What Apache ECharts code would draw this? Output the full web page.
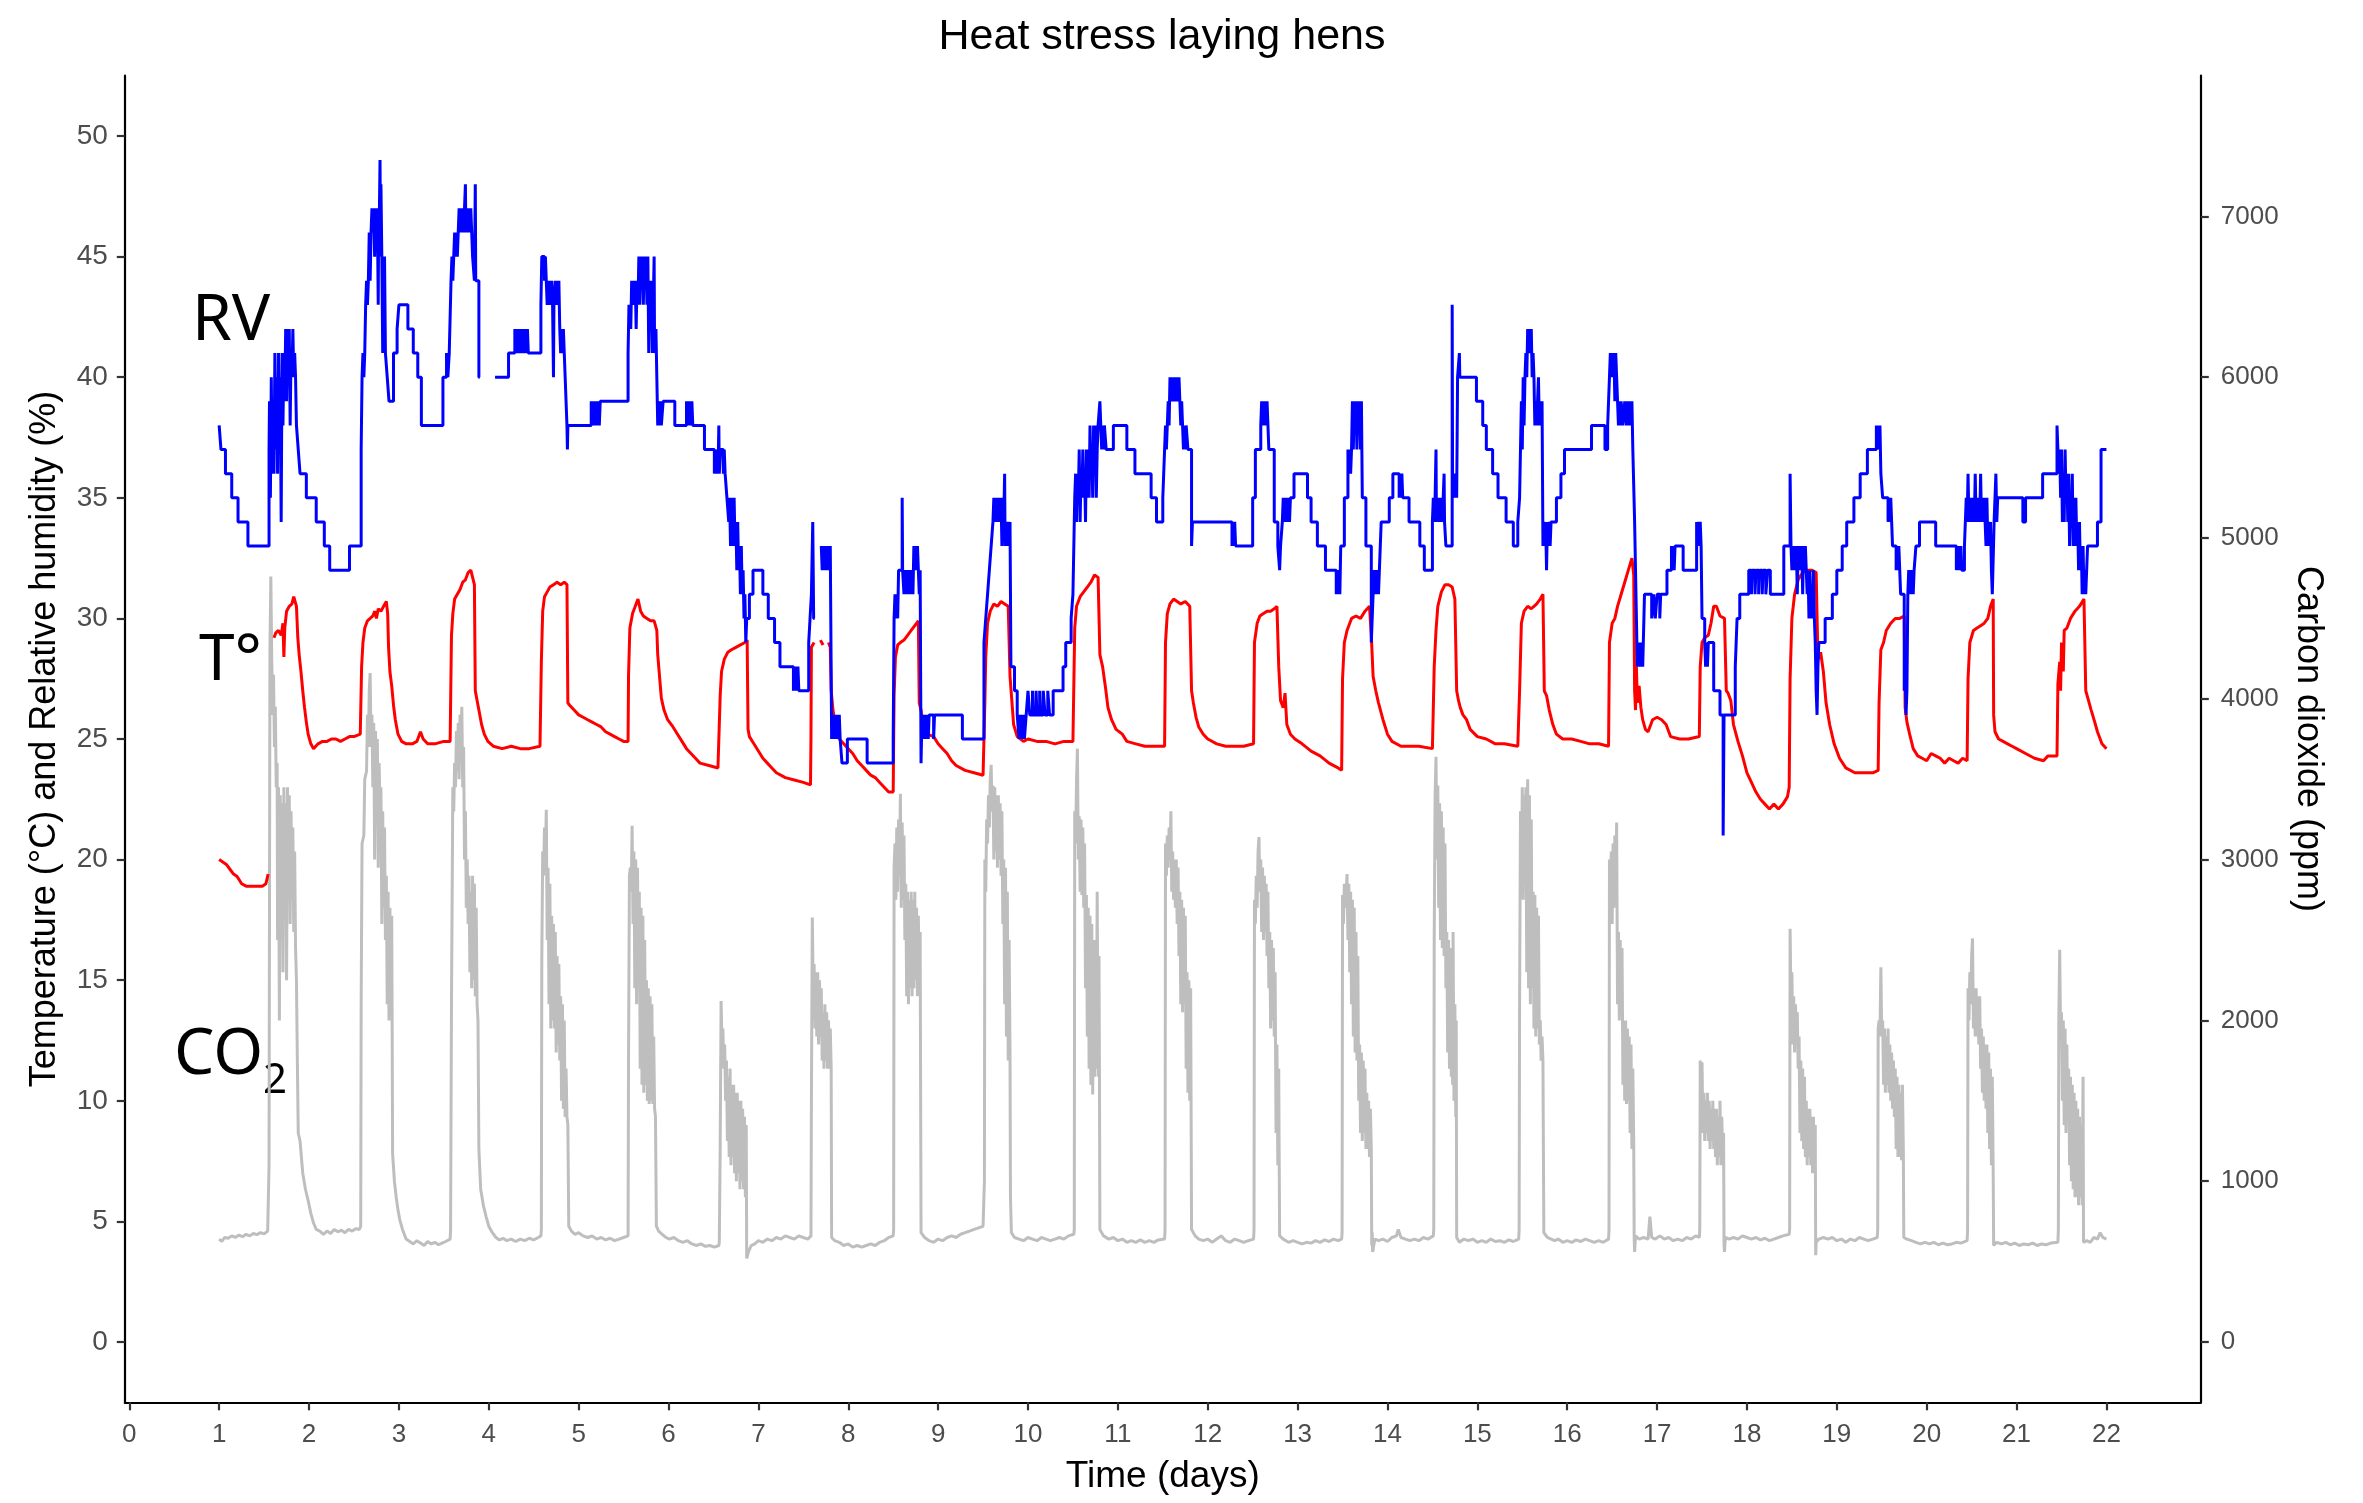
<!DOCTYPE html>
<html>
<head>
<meta charset="utf-8">
<script src="https://cdn.jsdelivr.net/npm/echarts@6/dist/echarts.min.js"></script>
<style>
html,body{margin:0;padding:0;background:#fff;}
#chart{width:2363px;height:1503px;}
</style>
</head>
<body>
<div id="chart"></div>
<script>
// ---- tick labels ----
const dayTicks = [0,1,2,3,4,5,6,7,8,9,10,11,12,13,14,15,16,17,18,19,20,21,22];
const leftTicks = [0,5,10,15,20,25,30,35,40,45,50];
const rightTicks = [0,1000,2000,3000,4000,5000,6000,7000];

// ---- temperature (°C) : [day, value] ----
const tempData = [
[1.00,20.0],[1.04,19.9],[1.08,19.8],[1.12,19.6],[1.16,19.4],[1.20,19.3],[1.25,19.0],[1.30,18.9],[1.40,18.9],[1.48,18.9],[1.52,19.0],[1.545,19.4],[1.55,'-'],
[1.61,29.2],[1.63,29.4],[1.66,29.5],[1.69,29.3],[1.71,29.8],[1.72,28.4],[1.73,29.6],[1.75,30.3],[1.78,30.5],[1.81,30.6],[1.83,30.9],[1.86,30.5],[1.875,29.2],[1.89,28.5],[1.91,27.8],[1.93,27.0],[1.95,26.3],[1.97,25.7],[1.99,25.2],[2.02,24.8],[2.05,24.6],[2.10,24.8],[2.15,24.9],[2.20,24.9],[2.25,25.0],[2.30,25.0],[2.35,24.9],[2.40,25.0],[2.45,25.1],[2.50,25.1],[2.57,25.2],
[2.585,28.0],[2.60,29.0],[2.62,29.6],[2.65,29.9],[2.68,30.0],[2.71,30.1],[2.73,30.3],[2.75,30.0],[2.77,30.4],[2.80,30.3],[2.83,30.5],[2.86,30.7],[2.875,30.2],[2.885,28.8],[2.90,27.8],[2.92,27.2],[2.94,26.4],[2.96,25.8],[2.99,25.2],[3.03,24.9],[3.08,24.8],[3.15,24.8],[3.20,24.9],[3.24,25.3],[3.27,25.0],[3.32,24.8],[3.40,24.8],[3.50,24.9],[3.57,24.9],
[3.585,29.3],[3.60,30.2],[3.62,30.8],[3.65,31.0],[3.68,31.2],[3.71,31.5],[3.74,31.6],[3.77,31.9],[3.80,32.0],[3.82,31.7],[3.84,31.4],[3.85,27.0],[3.87,26.6],[3.89,26.2],[3.92,25.6],[3.95,25.2],[3.99,24.9],[4.05,24.7],[4.15,24.6],[4.25,24.7],[4.35,24.6],[4.45,24.6],[4.57,24.7],
[4.585,28.2],[4.60,30.3],[4.62,30.9],[4.65,31.1],[4.68,31.3],[4.72,31.4],[4.76,31.5],[4.80,31.4],[4.84,31.5],[4.87,31.4],[4.88,26.5],[4.90,26.4],[4.95,26.2],[5.00,26.0],[5.05,25.9],[5.10,25.8],[5.15,25.7],[5.20,25.6],[5.25,25.5],[5.30,25.3],[5.35,25.2],[5.40,25.1],[5.45,25.0],[5.50,24.9],[5.55,24.9],
[5.555,27.6],[5.57,29.6],[5.60,30.2],[5.63,30.5],[5.66,30.8],[5.69,30.3],[5.72,30.1],[5.76,30.0],[5.80,29.9],[5.84,29.9],[5.87,29.5],[5.88,28.5],[5.90,27.6],[5.92,26.7],[5.95,26.2],[5.99,25.8],[6.05,25.5],[6.10,25.2],[6.15,24.9],[6.20,24.6],[6.25,24.4],[6.30,24.2],[6.35,24.0],[6.45,23.9],[6.55,23.8],
[6.575,26.8],[6.59,27.8],[6.62,28.3],[6.66,28.6],[6.70,28.7],[6.75,28.8],[6.80,28.9],[6.85,29.0],[6.875,29.1],[6.885,25.4],[6.90,25.1],[6.95,24.8],[7.00,24.5],[7.05,24.2],[7.10,24.0],[7.15,23.8],[7.20,23.6],[7.30,23.4],[7.40,23.3],[7.50,23.2],[7.58,23.1],
[7.585,25.0],[7.59,28.8],[7.62,29.0],[7.625,'-'],[7.69,29.1],[7.72,28.9],[7.725,'-'],[7.78,29.0],[7.80,28.8],[7.81,27.0],[7.83,26.2],[7.86,25.5],[7.90,25.0],[7.95,24.8],[8.00,24.6],[8.05,24.4],[8.10,24.1],[8.15,23.9],[8.20,23.7],[8.25,23.5],[8.30,23.4],[8.35,23.2],[8.40,23.0],[8.45,22.8],[8.50,22.8],
[8.51,26.8],[8.525,28.4],[8.55,28.9],[8.58,29.0],[8.62,29.1],[8.66,29.3],[8.70,29.5],[8.74,29.7],[8.78,29.9],[8.79,26.5],[8.81,26.2],[8.84,25.4],[8.88,25.2],[8.95,25.1],[9.00,24.8],[9.05,24.6],[9.10,24.4],[9.15,24.1],[9.20,23.9],[9.30,23.7],[9.40,23.6],[9.50,23.5],
[9.52,26.5],[9.53,28.4],[9.55,29.8],[9.58,30.3],[9.62,30.6],[9.66,30.5],[9.70,30.7],[9.74,30.6],[9.78,30.5],[9.80,27.6],[9.82,26.6],[9.84,25.6],[9.88,25.1],[9.95,24.9],[10.00,25.0],[10.10,24.9],[10.20,24.9],[10.30,24.8],[10.40,24.9],[10.50,24.9],
[10.52,29.6],[10.54,30.5],[10.58,30.9],[10.62,31.1],[10.66,31.3],[10.70,31.5],[10.74,31.8],[10.78,31.7],[10.80,28.5],[10.83,28.0],[10.86,27.2],[10.89,26.3],[10.93,25.8],[10.98,25.4],[11.05,25.2],[11.10,24.9],[11.20,24.8],[11.30,24.7],[11.40,24.7],[11.52,24.7],
[11.53,29.0],[11.55,30.2],[11.58,30.6],[11.62,30.8],[11.66,30.7],[11.70,30.6],[11.75,30.7],[11.80,30.5],[11.82,27.0],[11.84,26.5],[11.87,25.9],[11.90,25.5],[11.95,25.2],[12.00,25.0],[12.10,24.8],[12.20,24.7],[12.30,24.7],[12.40,24.7],[12.51,24.8],
[12.52,29.0],[12.55,29.8],[12.58,30.1],[12.62,30.2],[12.66,30.3],[12.70,30.3],[12.74,30.4],[12.77,30.5],[12.79,28.0],[12.81,26.6],[12.84,26.3],[12.86,26.9],[12.88,25.6],[12.92,25.2],[12.97,25.0],[13.05,24.8],[13.15,24.5],[13.25,24.3],[13.35,24.0],[13.45,23.8],[13.49,23.7],
[13.50,27.5],[13.52,29.0],[13.55,29.5],[13.60,30.0],[13.65,30.1],[13.70,30.0],[13.75,30.3],[13.80,30.5],[13.82,29.3],[13.84,27.6],[13.87,27.0],[13.90,26.5],[13.95,25.8],[14.00,25.2],[14.05,24.9],[14.15,24.7],[14.25,24.7],[14.35,24.7],[14.50,24.6],
[14.52,28.0],[14.54,29.5],[14.56,30.5],[14.60,31.1],[14.64,31.4],[14.68,31.4],[14.72,31.3],[14.75,30.8],[14.77,27.0],[14.79,26.6],[14.81,26.3],[14.84,26.0],[14.88,25.8],[14.92,25.4],[15.00,25.1],[15.10,25.0],[15.20,24.8],[15.30,24.8],[15.45,24.7],
[15.47,27.0],[15.49,29.8],[15.52,30.3],[15.56,30.5],[15.60,30.4],[15.63,30.5],[15.66,30.6],[15.70,30.8],[15.73,31.0],[15.745,27.0],[15.77,26.8],[15.80,26.2],[15.84,25.6],[15.88,25.2],[15.95,25.0],[16.05,25.0],[16.15,24.9],[16.25,24.8],[16.35,24.8],[16.46,24.7],
[16.47,29.0],[16.50,29.8],[16.53,30.0],[16.56,30.5],[16.60,31.0],[16.64,31.5],[16.68,32.0],[16.72,32.5],[16.74,31.8],[16.75,27.0],[16.76,26.2],[16.77,28.0],[16.78,26.5],[16.80,27.2],[16.82,26.3],[16.84,25.8],[16.87,25.4],[16.90,25.3],[16.95,25.8],[17.00,25.9],[17.05,25.8],[17.10,25.6],[17.15,25.1],[17.25,25.0],[17.35,25.0],[17.47,25.1],
[17.48,28.0],[17.50,29.0],[17.53,29.2],[17.57,29.3],[17.60,29.8],[17.63,30.5],[17.66,30.5],[17.70,30.1],[17.75,30.0],[17.77,27.0],[17.79,26.9],[17.82,26.6],[17.85,25.6],[17.90,24.9],[17.95,24.3],[18.00,23.6],[18.05,23.2],[18.10,22.8],[18.15,22.5],[18.20,22.3],[18.25,22.1],[18.30,22.3],[18.35,22.1],[18.40,22.3],[18.45,22.6],[18.47,23.0],
[18.48,27.5],[18.50,30.0],[18.53,31.0],[18.57,31.6],[18.62,31.9],[18.67,32.0],[18.72,32.0],[18.77,31.9],[18.79,28.3],[18.82,28.6],[18.85,27.8],[18.88,26.5],[18.92,25.6],[18.97,24.8],[19.03,24.2],[19.10,23.8],[19.20,23.6],[19.30,23.6],[19.40,23.6],[19.46,23.7],
[19.47,26.5],[19.49,28.7],[19.52,29.0],[19.55,29.5],[19.60,29.8],[19.65,30.0],[19.70,30.0],[19.75,30.1],[19.76,26.3],[19.78,25.7],[19.81,25.2],[19.85,24.6],[19.90,24.3],[19.95,24.2],[20.00,24.1],[20.05,24.4],[20.10,24.3],[20.15,24.2],[20.20,24.0],[20.25,24.2],[20.30,24.1],[20.35,24.0],[20.40,24.2],[20.45,24.1],
[20.46,27.5],[20.48,29.0],[20.52,29.5],[20.56,29.6],[20.60,29.7],[20.64,29.8],[20.68,30.0],[20.71,30.5],[20.74,30.8],[20.745,26.0],[20.76,25.3],[20.80,25.0],[20.85,24.9],[20.90,24.8],[20.95,24.7],[21.00,24.6],[21.10,24.4],[21.20,24.2],[21.30,24.1],[21.35,24.3],[21.45,24.3],
[21.46,27.3],[21.48,28.2],[21.49,27.0],[21.50,29.0],[21.52,27.8],[21.53,29.5],[21.56,29.6],[21.60,30.0],[21.65,30.3],[21.70,30.5],[21.75,30.8],[21.77,27.0],[21.80,26.6],[21.83,26.2],[21.87,25.7],[21.90,25.3],[21.95,24.8],[22.00,24.6]
];

// ---- relative humidity (%) : [day, value] ----
const rhData = [
[1.00,38],[1.02,37],[1.07,36],[1.14,35],[1.21,34],[1.32,33],[1.555,37],
[1.56,39],[1.57,35],[1.58,40],[1.59,36],[1.60,39],[1.61,36],[1.62,41],[1.63,37],[1.64,40],[1.65,36],[1.66,41],[1.67,38],[1.68,40],[1.69,34],[1.70,41],[1.71,38],[1.72,41],[1.73,39],[1.74,42],[1.75,39],[1.76,42],[1.77,40],[1.78,42],[1.79,38],[1.80,41],[1.81,40],[1.82,42],[1.83,40],[1.84,41],[1.85,40],[1.86,38],[1.88,37],[1.90,36],[1.97,35],[2.08,34],[2.17,33],[2.23,32],[2.45,33],
[2.58,37],[2.59,40],[2.60,41],[2.61,40],[2.62,41],[2.63,43],[2.64,44],[2.65,43],[2.66,44],[2.67,46],[2.68,44],[2.69,46],[2.70,47],[2.71,46],[2.72,47],[2.73,45],[2.74,47],[2.75,46],[2.76,47],[2.77,43],[2.775,47],[2.78,46],[2.79,49],[2.795,45],[2.80,48],[2.81,45],[2.82,41],[2.84,45],[2.85,41],[2.87,40],[2.89,39],[2.94,41],[2.98,42],[3.00,43],[3.10,42],[3.16,41],[3.21,40],[3.25,38],[3.49,40],[3.53,41],[3.545,40],[3.56,41],
[3.58,44],[3.59,45],[3.60,44],[3.62,46],[3.63,45],[3.64,46],[3.65,45],[3.66,46],[3.67,47],[3.68,46],[3.69,47],[3.70,46],[3.71,47],[3.72,46],[3.73,47],[3.74,48],[3.745,46],[3.75,47],[3.76,46],[3.78,47],[3.79,46],[3.80,47],[3.81,46],[3.82,45],[3.84,44],[3.85,48],[3.855,44],[3.87,44],[3.89,40],[3.90,40],[3.905,'-'],
[4.07,40],[4.22,41],[4.29,42],[4.30,41],[4.31,42],[4.32,41],[4.33,42],[4.34,41],[4.35,42],[4.36,41],[4.37,42],[4.38,41],[4.39,42],[4.40,41],[4.41,42],[4.42,41],[4.43,42],[4.44,41],
[4.58,43],[4.59,45],[4.62,44],[4.63,45],[4.64,44],[4.65,43],[4.66,44],[4.67,43],[4.68,44],[4.69,43],[4.70,44],[4.71,43],[4.72,40],[4.725,43],[4.74,44],[4.75,43],[4.76,44],[4.77,43],[4.78,44],[4.79,42],[4.80,41],[4.81,42],[4.82,41],[4.83,42],[4.84,41],[4.85,40],[4.86,39],[4.87,38],[4.875,37],[4.88,38],
[5.14,39],[5.15,38],[5.16,39],[5.17,38],[5.18,39],[5.19,38],[5.20,39],[5.21,38],[5.22,39],[5.23,38],[5.24,39],
[5.55,41],[5.56,43],[5.58,42],[5.59,44],[5.60,43],[5.61,44],[5.62,43],[5.63,44],[5.64,42],[5.65,44],[5.66,43],[5.67,45],[5.68,43],[5.69,45],[5.70,44],[5.71,45],[5.72,43],[5.73,45],[5.74,44],[5.75,45],[5.76,43],[5.77,45],[5.78,41],[5.79,44],[5.80,43],[5.81,44],[5.82,41],[5.84,45],[5.845,41],[5.86,42],[5.87,40],[5.88,38],[5.89,39],[5.90,38],[5.91,39],[5.92,38],[5.94,39],[6.07,38],
[6.20,39],[6.21,38],[6.22,39],[6.23,38],[6.24,39],[6.25,38],[6.26,39],[6.27,38],[6.40,37],[6.51,36],[6.52,37],[6.53,36],[6.54,37],[6.55,36],[6.56,38],[6.565,36],[6.58,37],[6.61,36],[6.62,37],[6.63,36],[6.65,35],[6.67,34],[6.68,35],[6.69,33],[6.70,35],[6.71,34],[6.72,33],[6.73,35],[6.74,33],[6.75,34],[6.76,32],[6.77,34],[6.78,32],[6.79,33],[6.80,31],[6.81,33],[6.82,31],[6.83,32],[6.84,30],[6.85,31],[6.86,29],[6.87,30],
[6.88,30],[6.90,31],[6.94,32],[7.05,31],[7.11,30],[7.18,29],[7.24,28],[7.39,27],[7.40,28],[7.41,27],[7.42,28],[7.43,27],[7.44,28],[7.45,27],[7.56,29],[7.575,30],[7.59,31],[7.605,34],[7.615,30],[7.62,30],[7.625,'-'],
[7.70,33],[7.71,32],[7.72,33],[7.73,32],[7.74,33],[7.75,32],[7.76,33],[7.77,32],[7.78,33],[7.79,32],[7.80,33],[7.815,25],[7.82,26],[7.83,25],[7.84,26],[7.85,25],[7.86,26],[7.87,25],[7.88,26],[7.89,25],[7.90,26],[7.91,25],[7.93,24],[7.99,25],[8.21,24],
[8.50,25],[8.51,30],[8.52,31],[8.53,30],[8.54,31],[8.55,30],[8.56,32],[8.60,35],[8.605,32],[8.62,31],[8.63,32],[8.64,31],[8.65,32],[8.66,31],[8.67,32],[8.68,31],[8.69,32],[8.70,31],[8.71,32],[8.72,31],[8.73,33],[8.74,32],[8.75,33],[8.76,32],[8.77,33],[8.78,32],[8.79,31],[8.80,32],[8.81,24],[8.82,26],[8.83,25],[8.84,26],[8.85,25],[8.86,26],[8.87,25],[8.88,26],[8.89,25],[8.90,26],[8.95,25],[8.96,26],[9.27,25],
[9.51,29],[9.53,30],[9.55,31],[9.57,32],[9.59,33],[9.61,34],[9.62,35],[9.63,34],[9.64,35],[9.65,34],[9.66,35],[9.67,34],[9.68,35],[9.69,34],[9.70,35],[9.71,33],[9.72,35],[9.73,34],[9.74,36],[9.745,33],[9.76,34],[9.77,33],[9.78,34],[9.79,33],[9.80,34],[9.81,28],[9.85,27],[9.88,26],[9.90,25],[9.91,26],[9.92,25],[9.93,26],[9.94,25],[9.95,26],[9.96,25],[9.98,26],[10.00,27],[10.02,26],[10.05,27],[10.06,26],[10.09,27],[10.10,26],[10.13,27],[10.14,26],[10.17,27],[10.19,26],[10.22,27],[10.24,26],[10.28,27],[10.39,28],[10.42,29],[10.48,30],[10.50,31],
[10.52,35],[10.53,36],[10.54,34],[10.55,36],[10.56,35],[10.57,37],[10.58,34],[10.59,36],[10.60,35],[10.61,37],[10.62,35],[10.63,36],[10.64,34],[10.65,37],[10.66,35],[10.67,37],[10.68,35],[10.69,38],[10.70,36],[10.71,37],[10.72,35],[10.73,38],[10.74,36],[10.75,38],[10.76,35],[10.77,37],[10.78,38],[10.80,39],[10.81,38],[10.82,37],[10.83,38],[10.84,37],[10.85,38],[10.87,37],[10.95,38],[11.10,37],[11.19,36],[11.37,35],[11.43,34],[11.50,35],[11.52,37],[11.53,38],[11.54,37],[11.55,38],[11.56,39],[11.57,38],[11.58,40],[11.59,39],[11.60,40],[11.61,39],[11.62,40],[11.63,39],[11.64,40],[11.65,39],[11.66,40],[11.67,39],[11.68,40],[11.69,39],[11.70,38],[11.71,39],[11.72,38],[11.73,37],[11.74,38],[11.75,37],[11.76,38],[11.78,37],[11.82,33],[11.83,34],
[12.27,33],[12.28,34],[12.29,33],[12.30,34],[12.31,33],[12.50,35],[12.53,37],[12.59,38],[12.60,39],[12.61,38],[12.62,39],[12.63,38],[12.64,39],[12.65,38],[12.66,39],[12.67,38],[12.68,37],[12.74,34],[12.78,33],[12.80,32],[12.81,33],[12.83,34],[12.84,35],[12.85,34],[12.86,35],[12.87,34],[12.88,35],[12.89,34],[12.90,35],[12.91,34],[12.92,35],[12.96,36],[13.11,35],[13.15,34],[13.22,33],[13.31,32],[13.43,31],[13.44,32],[13.45,31],[13.46,32],[13.47,31],[13.48,33],[13.52,35],[13.56,37],[13.57,36],[13.58,37],[13.59,36],[13.60,37],[13.61,39],[13.62,37],[13.63,39],[13.64,38],[13.65,39],[13.66,37],[13.67,39],[13.68,38],[13.69,39],[13.70,37],[13.71,39],[13.72,35],[13.76,33],[13.82,29],[13.84,31],[13.85,32],[13.86,31],[13.87,32],[13.88,31],[13.89,32],[13.90,31],[13.91,32],[13.93,34],
[14.02,35],[14.06,36],[14.13,35],[14.14,36],[14.15,35],[14.16,36],[14.17,35],[14.24,34],[14.36,33],[14.41,32],[14.50,34],[14.51,35],[14.52,34],[14.53,35],[14.54,37],[14.545,34],[14.56,35],[14.57,34],[14.58,35],[14.59,34],[14.60,35],[14.61,34],[14.63,36],[14.635,34],[14.65,33],[14.72,43],[14.725,35],[14.74,36],[14.75,35],[14.76,36],[14.77,35],[14.78,40],[14.80,41],[14.805,40],[14.99,39],[15.06,38],[15.10,37],[15.17,36],[15.23,35],[15.32,34],[15.40,33],[15.45,34],[15.47,35],[15.48,37],
[15.49,39],[15.50,37],[15.51,40],[15.52,38],[15.53,40],[15.54,41],[15.55,40],[15.56,42],[15.57,41],[15.58,42],[15.59,41],[15.60,42],[15.61,40],[15.62,41],[15.63,40],[15.64,38],[15.65,39],[15.66,38],[15.67,39],[15.68,40],[15.69,38],[15.70,39],[15.71,38],[15.72,39],[15.73,33],[15.74,34],[15.75,33],[15.76,34],[15.77,32],[15.78,34],[15.79,33],[15.80,34],[15.81,33],[15.82,34],[15.88,35],[15.93,36],[15.97,37],[16.27,38],[16.42,37],[16.45,38],
[16.47,40],[16.48,41],[16.49,40],[16.50,41],[16.51,40],[16.52,41],[16.53,39],[16.54,41],[16.55,40],[16.57,38],[16.58,39],[16.59,38],[16.60,39],[16.62,38],[16.64,39],[16.66,38],[16.67,39],[16.68,38],[16.69,39],[16.70,38],[16.72,39],[16.73,37],[16.75,34],[16.77,30],[16.78,28],[16.79,29],[16.80,28],[16.81,29],[16.82,28],[16.83,29],[16.84,28],[16.86,31],[16.94,30],[16.96,31],[16.98,30],[17.00,31],[17.03,30],[17.04,31],[17.11,32],[17.16,33],[17.17,32],[17.18,33],[17.19,32],[17.20,33],[17.29,32],[17.44,34],[17.45,33],[17.46,34],[17.47,33],[17.48,34],[17.49,33],[17.50,30],[17.53,29],[17.54,28],[17.55,29],[17.56,28],[17.57,29],[17.63,27],[17.70,26],[17.735,21],[17.745,26],[17.87,28],[17.89,30],[17.92,31],
[18.02,32],[18.05,31],[18.06,32],[18.09,31],[18.10,32],[18.13,31],[18.14,32],[18.17,31],[18.18,32],[18.21,31],[18.23,32],[18.26,31],[18.41,33],[18.48,36],[18.49,33],[18.50,32],[18.51,33],[18.52,32],[18.53,33],[18.54,32],[18.55,33],[18.56,31],[18.57,33],[18.58,32],[18.59,33],[18.60,32],[18.61,33],[18.62,31],[18.63,33],[18.64,32],[18.65,33],[18.67,31],[18.68,32],[18.69,30],[18.70,32],[18.71,30],[18.72,31],[18.73,30],[18.74,32],[18.75,30],[18.76,29],[18.77,27],[18.78,26],[18.79,28],[18.80,29],[18.87,30],[18.95,31],[19.00,32],[19.06,33],[19.11,34],[19.19,35],[19.26,36],[19.34,37],
[19.44,38],[19.45,37],[19.46,38],[19.47,37],[19.48,38],[19.49,36],[19.51,35],[19.57,34],[19.58,35],[19.59,34],[19.60,35],[19.61,34],[19.62,33],[19.66,32],[19.67,33],[19.68,32],[19.69,33],[19.70,32],[19.71,31],[19.75,27],[19.76,28],[19.77,26],[19.78,27],[19.79,31],[19.80,32],[19.81,31],[19.82,32],[19.83,31],[19.84,32],[19.85,31],[19.86,32],[19.88,33],[19.92,34],[20.10,33],[20.33,32],[20.34,33],[20.35,32],[20.36,33],[20.37,32],[20.38,33],[20.39,32],[20.42,33],
[20.44,35],[20.45,34],[20.46,36],[20.47,34],[20.48,35],[20.49,34],[20.50,35],[20.51,34],[20.52,35],[20.53,34],[20.54,36],[20.55,34],[20.56,35],[20.57,34],[20.58,35],[20.59,34],[20.60,36],[20.61,34],[20.62,35],[20.63,34],[20.64,35],[20.65,34],[20.66,33],[20.67,35],[20.68,33],[20.69,34],[20.70,33],[20.71,34],[20.72,32],[20.73,31],[20.75,34],[20.77,36],[20.78,34],[20.79,35],[21.07,34],[21.10,35],[21.29,36],[21.45,38],
[21.47,36],[21.48,37],[21.49,35],[21.50,37],[21.51,34],[21.52,36],[21.53,34],[21.54,37],[21.55,35],[21.56,36],[21.57,34],[21.58,36],[21.59,33],[21.60,35],[21.61,34],[21.62,36],[21.63,33],[21.64,35],[21.65,33],[21.66,35],[21.67,33],[21.68,34],[21.69,32],[21.70,34],[21.71,32],[21.72,33],[21.73,31],[21.74,33],[21.75,31],[21.76,32],[21.77,31],[21.79,33],[21.90,34],[21.94,37],[22.00,37]
];

// ---- carbon dioxide (ppm) : [day, value] ----
const co2Data = [
[1.00,640],[1.03,625],[1.06,650],[1.10,645],[1.14,660],[1.18,650],[1.22,665],[1.26,655],[1.30,670],[1.34,660],[1.38,675],[1.42,668],[1.46,680],[1.50,672],[1.54,690],
[1.555,1100],[1.565,4300],[1.575,4760],[1.585,4250],[1.595,3900],[1.605,4150],[1.615,3700],[1.625,3950],[1.635,3450],[1.645,3600],[1.65,2500],[1.66,3450],[1.67,2000],[1.68,3400],[1.69,2500],[1.70,3350],[1.71,2300],[1.72,3450],[1.73,2700],[1.74,3350],[1.75,2250],[1.76,3450],[1.77,2750],[1.78,3400],[1.79,2600],[1.80,3300],[1.81,2750],[1.82,3200],[1.83,2550],[1.84,3050],[1.85,2450],[1.86,2250],[1.87,1750],[1.88,1300],[1.90,1250],[1.93,1050],[1.96,950],[1.99,880],[2.02,800],[2.05,740],[2.08,700],
[2.12,690],[2.16,670],[2.20,690],[2.24,675],[2.28,700],[2.32,685],[2.36,695],[2.40,680],[2.44,700],[2.48,690],[2.52,705],[2.56,700],
[2.575,720],[2.58,2100],[2.59,3100],[2.61,3150],[2.62,3500],[2.64,3550],[2.65,3900],[2.66,3700],[2.67,4050],[2.68,4160],[2.69,3700],[2.70,3900],[2.71,3450],[2.72,3850],[2.73,3000],[2.74,3800],[2.75,3450],[2.76,3750],[2.77,2950],[2.78,3600],[2.79,3300],[2.80,3450],[2.81,2600],[2.82,3300],[2.83,2700],[2.84,3200],[2.85,2500],[2.86,2900],[2.87,2100],[2.88,2800],[2.89,2000],[2.90,2700],[2.91,2100],[2.92,2650],[2.925,1950],[2.93,1170],[2.95,1000],[2.97,900],[2.99,820],[3.01,760],[3.04,700],[3.08,640],
[3.12,625],[3.16,610],[3.20,630],[3.24,615],[3.28,600],[3.32,625],[3.36,610],[3.40,620],[3.44,605],[3.48,615],[3.52,625],[3.57,640],
[3.575,700],[3.585,2100],[3.60,3450],[3.61,3300],[3.62,3600],[3.63,3450],[3.64,3800],[3.65,3550],[3.66,3850],[3.67,3500],[3.68,3900],[3.69,3600],[3.70,3950],[3.71,3450],[3.72,3700],[3.73,3000],[3.74,3300],[3.75,2700],[3.76,3000],[3.77,2600],[3.78,2900],[3.79,2300],[3.80,2800],[3.81,2200],[3.82,2900],[3.83,2250],[3.84,2850],[3.85,2150],[3.86,2700],[3.87,2100],[3.88,2000],[3.89,1200],[3.91,950],[3.94,850],[3.97,780],[4.00,720],[4.04,680],
[4.08,650],[4.12,635],[4.16,645],[4.20,630],[4.25,640],[4.30,625],[4.35,640],[4.40,630],[4.45,645],[4.50,635],[4.55,650],[4.58,660],
[4.585,700],[4.59,2370],[4.60,3050],[4.61,2900],[4.62,3200],[4.63,3000],[4.64,3310],[4.65,2500],[4.66,2950],[4.67,2100],[4.68,2850],[4.69,1950],[4.70,2650],[4.71,2000],[4.72,2600],[4.73,1950],[4.74,2550],[4.75,1800],[4.76,2400],[4.77,1850],[4.78,2350],[4.79,1750],[4.80,2150],[4.81,1500],[4.82,2100],[4.83,1450],[4.84,2000],[4.85,1400],[4.86,1700],[4.87,1400],[4.88,1350],[4.89,720],[4.92,690],
[4.96,670],[5.00,680],[5.05,660],[5.10,650],[5.15,660],[5.20,640],[5.25,650],[5.30,635],[5.35,645],[5.40,630],[5.45,640],[5.50,650],[5.55,660],
[5.555,1750],[5.565,2900],[5.575,2950],[5.585,2800],[5.595,3210],[5.605,2600],[5.615,3050],[5.625,2200],[5.635,3000],[5.645,2100],[5.655,2950],[5.665,2300],[5.675,2800],[5.685,1700],[5.695,2700],[5.705,1600],[5.715,2650],[5.725,1550],[5.735,2500],[5.745,1600],[5.755,2250],[5.765,1500],[5.775,2200],[5.785,1480],[5.795,2150],[5.805,1500],[5.815,2100],[5.825,1480],[5.835,1900],[5.845,1450],[5.855,1400],[5.865,720],[5.89,690],[5.93,670],
[5.97,650],[6.01,640],[6.06,650],[6.11,630],[6.16,620],[6.21,630],[6.26,610],[6.31,600],[6.36,610],[6.41,595],[6.46,600],[6.51,590],[6.56,600],
[6.565,620],[6.575,1200],[6.585,2120],[6.595,1850],[6.605,1950],[6.615,1700],[6.625,1850],[6.635,1500],[6.645,1750],[6.655,1250],[6.665,1650],[6.675,1150],[6.685,1700],[6.695,1100],[6.705,1600],[6.715,1150],[6.725,1600],[6.735,1050],[6.745,1550],[6.755,1000],[6.765,1550],[6.775,1050],[6.785,1500],[6.795,950],[6.805,1500],[6.815,1000],[6.825,1450],[6.835,950],[6.845,1400],[6.855,900],[6.865,1350],[6.87,520],[6.89,560],[6.92,600],
[6.96,610],[7.00,630],[7.05,620],[7.10,640],[7.15,630],[7.20,650],[7.25,640],[7.30,660],[7.35,650],[7.40,640],[7.45,660],[7.50,650],[7.55,640],[7.585,660],
[7.59,1500],[7.60,2640],[7.61,2200],[7.62,2350],[7.63,1950],[7.64,2300],[7.65,1900],[7.66,2300],[7.67,1850],[7.68,2250],[7.69,1900],[7.70,2200],[7.71,1750],[7.72,2050],[7.73,1700],[7.74,2100],[7.75,1750],[7.76,2050],[7.77,1700],[7.78,2000],[7.79,1700],[7.80,1950],[7.81,1700],[7.815,650],[7.85,630],
[7.90,620],[7.95,600],[8.00,610],[8.05,590],[8.10,600],[8.15,590],[8.20,600],[8.25,610],[8.30,600],[8.35,620],[8.40,630],[8.45,650],[8.50,660],
[8.505,700],[8.51,2950],[8.52,3100],[8.53,2750],[8.54,3200],[8.55,2800],[8.56,3250],[8.57,2900],[8.58,3410],[8.59,2700],[8.60,3230],[8.61,2750],[8.62,3150],[8.63,2500],[8.64,2850],[8.65,2150],[8.66,2800],[8.67,2100],[8.68,2750],[8.69,2200],[8.70,2800],[8.71,2150],[8.72,2750],[8.73,2200],[8.74,2800],[8.75,2250],[8.76,2700],[8.77,2150],[8.78,2650],[8.79,2200],[8.80,2550],[8.81,680],[8.85,650],
[8.90,630],[8.95,620],[9.00,640],[9.05,630],[9.10,650],[9.15,660],[9.20,650],[9.25,670],[9.30,680],[9.35,690],[9.40,700],[9.45,710],[9.50,720],
[9.515,1000],[9.52,3000],[9.53,2800],[9.54,3250],[9.55,3100],[9.56,3400],[9.57,3200],[9.58,3500],[9.59,3590],[9.60,3300],[9.61,3460],[9.62,3000],[9.63,3450],[9.64,3050],[9.65,3400],[9.66,2950],[9.67,3400],[9.68,3000],[9.69,3350],[9.70,2900],[9.71,3300],[9.72,2600],[9.73,3000],[9.74,2100],[9.75,2950],[9.76,1900],[9.77,2800],[9.78,1750],[9.79,2500],[9.80,1800],[9.805,900],[9.815,680],[9.85,650],
[9.90,640],[9.95,630],[10.00,650],[10.05,640],[10.10,630],[10.15,650],[10.20,640],[10.25,630],[10.30,640],[10.35,650],[10.40,640],[10.45,660],[10.51,670],
[10.515,700],[10.52,3300],[10.53,3100],[10.54,3500],[10.55,3690],[10.56,3000],[10.57,3270],[10.58,2800],[10.59,3250],[10.60,2780],[10.61,3200],[10.62,2700],[10.63,3100],[10.64,2200],[10.65,2780],[10.66,1900],[10.67,2700],[10.68,1700],[10.69,2650],[10.70,1600],[10.71,2600],[10.72,1540],[10.73,2500],[10.74,1650],[10.75,2500],[10.76,1700],[10.77,2800],[10.78,1650],[10.79,2400],[10.795,1700],[10.80,700],[10.84,660],
[10.90,640],[10.95,650],[11.00,630],[11.05,640],[11.10,620],[11.15,630],[11.20,620],[11.25,635],[11.30,620],[11.35,630],[11.40,620],[11.45,635],[11.52,640],
[11.525,700],[11.53,3100],[11.54,2900],[11.55,3150],[11.56,2950],[11.57,3200],[11.58,3000],[11.59,3300],[11.60,2800],[11.61,3050],[11.62,2750],[11.63,3000],[11.64,2700],[11.65,3000],[11.66,2600],[11.67,2950],[11.68,2400],[11.69,2800],[11.70,2100],[11.71,2750],[11.72,2050],[11.73,2700],[11.74,2100],[11.75,2650],[11.76,1700],[11.77,2300],[11.78,1550],[11.79,2250],[11.80,1500],[11.81,2200],[11.815,1450],[11.82,700],[11.86,660],
[11.90,640],[11.95,630],[12.00,640],[12.05,620],[12.10,640],[12.15,660],[12.20,630],[12.25,620],[12.30,640],[12.35,630],[12.40,620],[12.45,630],[12.51,640],
[12.515,700],[12.52,2750],[12.53,2600],[12.54,2900],[12.55,2700],[12.56,3050],[12.57,3140],[12.58,2800],[12.59,3000],[12.60,2550],[12.61,2950],[12.62,2500],[12.63,2900],[12.64,2550],[12.65,2850],[12.66,2400],[12.67,2800],[12.68,2200],[12.69,2550],[12.70,1950],[12.71,2500],[12.72,2000],[12.73,2450],[12.74,1900],[12.75,2300],[12.76,1300],[12.77,1850],[12.78,1100],[12.79,1700],[12.795,1150],[12.80,660],[12.84,640],
[12.90,620],[12.95,630],[13.00,620],[13.05,610],[13.10,620],[13.15,615],[13.20,630],[13.25,620],[13.30,635],[13.35,625],[13.40,640],[13.45,630],[13.49,640],
[13.495,680],[13.50,2780],[13.51,2600],[13.52,2850],[13.53,2700],[13.54,2800],[13.55,2910],[13.56,2500],[13.57,2850],[13.58,2300],[13.59,2800],[13.60,2100],[13.61,2750],[13.62,1900],[13.63,2700],[13.64,1800],[13.65,2550],[13.66,1750],[13.67,2400],[13.68,1500],[13.69,1850],[13.70,1300],[13.71,1800],[13.72,1250],[13.73,1750],[13.74,1300],[13.75,1700],[13.76,1200],[13.77,1550],[13.78,1200],[13.79,1500],[13.80,1150],[13.81,1450],[13.82,1200],[13.825,600],[13.83,680],[13.835,560],[13.86,640],
[13.90,630],[13.95,640],[14.00,625],[14.05,650],[14.10,660],[14.12,700],[14.15,650],[14.20,640],[14.25,630],[14.30,640],[14.35,630],[14.40,650],[14.45,640],[14.51,660],
[14.515,700],[14.52,2500],[14.53,3400],[14.54,3640],[14.55,3000],[14.56,3460],[14.57,2700],[14.58,3350],[14.59,2500],[14.60,3300],[14.61,2450],[14.62,3200],[14.63,2400],[14.64,3100],[14.65,2200],[14.66,2550],[14.67,1800],[14.68,2500],[14.69,1700],[14.70,2450],[14.71,1650],[14.72,2300],[14.725,1600],[14.73,2550],[14.74,1500],[14.75,2100],[14.76,1400],[14.765,2000],[14.77,650],[14.80,620],
[14.85,640],[14.90,630],[14.95,640],[15.00,620],[15.05,630],[15.10,620],[15.15,640],[15.20,625],[15.25,630],[15.30,620],[15.35,635],[15.40,625],[15.46,640],
[15.465,700],[15.47,2100],[15.48,3300],[15.49,2800],[15.50,3450],[15.51,2750],[15.52,3400],[15.53,2900],[15.54,3450],[15.55,2300],[15.56,3500],[15.57,2200],[15.58,3400],[15.59,2100],[15.60,3250],[15.61,2200],[15.62,2800],[15.63,1950],[15.64,2780],[15.65,1900],[15.66,2700],[15.67,1950],[15.68,2650],[15.69,1850],[15.70,2000],[15.71,1750],[15.72,1900],[15.73,1750],[15.735,1200],[15.74,680],[15.78,650],
[15.82,640],[15.86,630],[15.90,640],[15.95,620],[16.00,630],[16.05,620],[16.10,635],[16.15,625],[16.20,640],[16.25,630],[16.30,620],[16.35,630],[16.40,620],[16.46,640],
[16.465,700],[16.47,3000],[16.48,2700],[16.49,3050],[16.50,2600],[16.51,3100],[16.52,2700],[16.53,3150],[16.54,2800],[16.55,3230],[16.56,2100],[16.57,2550],[16.58,2000],[16.59,2500],[16.60,2050],[16.61,2450],[16.62,1600],[16.63,2000],[16.64,1500],[16.65,2000],[16.66,1480],[16.67,1950],[16.68,1500],[16.69,1900],[16.70,1300],[16.71,1850],[16.72,1200],[16.73,1700],[16.74,1250],[16.745,650],[16.75,560],[16.76,660],[16.80,640],
[16.85,650],[16.90,640],[16.92,780],[16.94,650],[16.98,640],[17.03,660],[17.08,640],[17.13,650],[17.18,630],[17.23,640],[17.28,630],[17.33,650],[17.38,640],[17.43,660],[17.47,650],
[17.475,700],[17.48,1750],[17.49,1500],[17.50,1740],[17.51,1300],[17.52,1550],[17.53,1250],[17.54,1500],[17.55,1300],[17.56,1550],[17.57,1250],[17.58,1500],[17.59,1200],[17.60,1450],[17.61,1250],[17.62,1500],[17.63,1200],[17.64,1450],[17.65,1150],[17.66,1450],[17.67,1100],[17.68,1400],[17.69,1150],[17.70,1500],[17.71,1100],[17.72,1400],[17.73,1150],[17.74,1300],[17.745,600],[17.75,560],[17.76,650],[17.80,640],
[17.85,650],[17.90,640],[17.95,660],[18.00,650],[18.05,640],[18.10,650],[18.15,635],[18.20,645],[18.25,630],[18.30,640],[18.35,650],[18.40,660],[18.47,670],
[18.475,700],[18.48,2570],[18.49,2100],[18.50,2300],[18.51,1850],[18.52,2150],[18.53,1800],[18.54,2100],[18.55,1850],[18.56,2050],[18.57,1700],[18.58,1900],[18.59,1300],[18.60,1750],[18.61,1250],[18.62,1700],[18.63,1200],[18.64,1650],[18.65,1150],[18.66,1500],[18.67,1100],[18.68,1450],[18.69,1150],[18.70,1450],[18.71,1100],[18.72,1400],[18.73,1050],[18.74,1400],[18.75,1100],[18.76,1350],[18.765,540],[18.77,620],[18.80,640],
[18.85,650],[18.90,640],[18.95,650],[19.00,630],[19.05,640],[19.10,620],[19.15,640],[19.20,630],[19.25,650],[19.30,640],[19.35,630],[19.40,640],[19.45,650],
[19.455,700],[19.46,1950],[19.47,2000],[19.48,1900],[19.49,2330],[19.50,1900],[19.51,2000],[19.52,1600],[19.53,1950],[19.54,1550],[19.55,1900],[19.56,1600],[19.57,1950],[19.58,1550],[19.59,1850],[19.60,1500],[19.61,1800],[19.62,1450],[19.63,1750],[19.64,1400],[19.65,1700],[19.66,1200],[19.67,1650],[19.68,1150],[19.69,1600],[19.70,1150],[19.71,1550],[19.72,1130],[19.73,1600],[19.74,1200],[19.745,650],[19.78,640],
[19.83,630],[19.88,620],[19.93,610],[19.98,620],[20.03,610],[20.08,620],[20.13,605],[20.18,615],[20.23,605],[20.28,610],[20.33,620],[20.38,615],[20.45,630],
[20.455,700],[20.46,2200],[20.47,2000],[20.48,2300],[20.49,2100],[20.50,2400],[20.51,2510],[20.52,1950],[20.53,2200],[20.54,1900],[20.55,2200],[20.56,1900],[20.57,2150],[20.58,1850],[20.59,2150],[20.60,1700],[20.61,1950],[20.62,1550],[20.63,1900],[20.64,1500],[20.65,1850],[20.66,1450],[20.67,1850],[20.68,1300],[20.69,1800],[20.70,1200],[20.71,1700],[20.72,1100],[20.73,1650],[20.74,1050],[20.745,600],[20.78,620],
[20.83,610],[20.88,620],[20.93,605],[20.98,615],[21.03,600],[21.08,610],[21.13,605],[21.18,615],[21.23,600],[21.28,610],[21.33,605],[21.38,615],[21.46,620],
[21.465,700],[21.47,2000],[21.48,2440],[21.49,1900],[21.50,2050],[21.51,1500],[21.52,2000],[21.53,1350],[21.54,1950],[21.55,1300],[21.56,1850],[21.57,1400],[21.58,1700],[21.59,1100],[21.60,1650],[21.61,1000],[21.62,1600],[21.63,950],[21.64,1550],[21.65,900],[21.66,1500],[21.67,900],[21.68,1450],[21.69,850],[21.70,1400],[21.71,900],[21.72,1350],[21.73,850],[21.74,1650],[21.745,620],[21.78,630],
[21.82,620],[21.86,650],[21.90,640],[21.93,680],[21.96,650],[22.00,640]
];

const FONT = '"Liberation Sans", Arial, sans-serif';
const chart = echarts.init(document.getElementById('chart'), null, {renderer:'canvas'});
const axisLineStyle = {color:'#000', width:2.2};
const tickStyle = {color:'#333', width:2.2};
const labelBase = {color:'#4D4D4D', fontFamily:FONT, fontSize:26};

chart.setOption({
  animation:false,
  backgroundColor:'#fff',
  title:{
    text:'Heat stress laying hens', left:1162, textAlign:'center', top:16, padding:0,
    textStyle:{fontFamily:FONT, fontSize:43, fontWeight:'normal', color:'#000'}
  },
  grid:{left:124.8, top:75.7, width:2076, height:1326.6, containLabel:false},
  xAxis:{
    type:'value', min:-0.05, max:23.05,
    axisLine:{show:true, onZero:false, lineStyle:axisLineStyle},
    axisTick:{show:true, customValues:dayTicks, length:8, lineStyle:tickStyle},
    axisLabel:{show:true, customValues:dayTicks, margin:20, ...labelBase},
    splitLine:{show:false},
    name:'Time (days)', nameLocation:'middle', nameGap:56,
    nameTextStyle:{fontFamily:FONT, fontSize:37, color:'#000'}
  },
  yAxis:[
    {
      type:'value', position:'left', min:-2.5, max:52.5,
      axisLine:{show:true, onZero:false, lineStyle:axisLineStyle},
      axisTick:{show:true, customValues:leftTicks, length:8, lineStyle:tickStyle},
      axisLabel:{show:true, customValues:leftTicks, margin:17, ...labelBase, fontSize:28},
      splitLine:{show:false},
      name:'Temperature (°C) and Relative humidity (%)', nameLocation:'middle', nameRotate:90, nameGap:62,
      nameTextStyle:{fontFamily:FONT, fontSize:36, color:'#000'}
    },
    {
      type:'value', position:'right', min:-375, max:7875,
      axisLine:{show:true, onZero:false, lineStyle:axisLineStyle},
      axisTick:{show:true, customValues:rightTicks, length:8, lineStyle:tickStyle},
      axisLabel:{show:true, customValues:rightTicks, margin:20, ...labelBase, formatter:function(v){return String(v);}},
      splitLine:{show:false},
      name:'Carbon dioxide (ppm)', nameLocation:'middle', nameRotate:-90, nameGap:67,
      nameTextStyle:{fontFamily:FONT, fontSize:36, color:'#000'}
    }
  ],
  series:[
    {name:'CO2', type:'line', yAxisIndex:1, data:co2Data, showSymbol:false, symbol:'none',
     lineStyle:{color:'#BEBEBE', width:3}, connectNulls:false, z:2},
    {name:'Temperature', type:'line', yAxisIndex:0, data:tempData, showSymbol:false, symbol:'none',
     lineStyle:{color:'#FF0000', width:3}, connectNulls:false, z:3},
    {name:'RH', type:'line', yAxisIndex:0, data:rhData, step:'end', showSymbol:false, symbol:'none',
     lineStyle:{color:'#0000FF', width:3}, connectNulls:false, z:4}
  ],
  graphic:[
    {type:'text', left:192, top:290, style:{text:'RV', font:'64px "Noto Sans"', fill:'#000'}},
    {type:'text', left:199, top:630, style:{text:'T°', font:'64px "Noto Sans"', fill:'#000'}},
    {type:'text', left:174, top:1024, style:{text:'CO', font:'64px "Noto Sans"', fill:'#000'}},
    {type:'text', left:263, top:1060, style:{text:'2', font:'42px "Noto Sans"', fill:'#000'}}
  ]
});
</script>
</body>
</html>
